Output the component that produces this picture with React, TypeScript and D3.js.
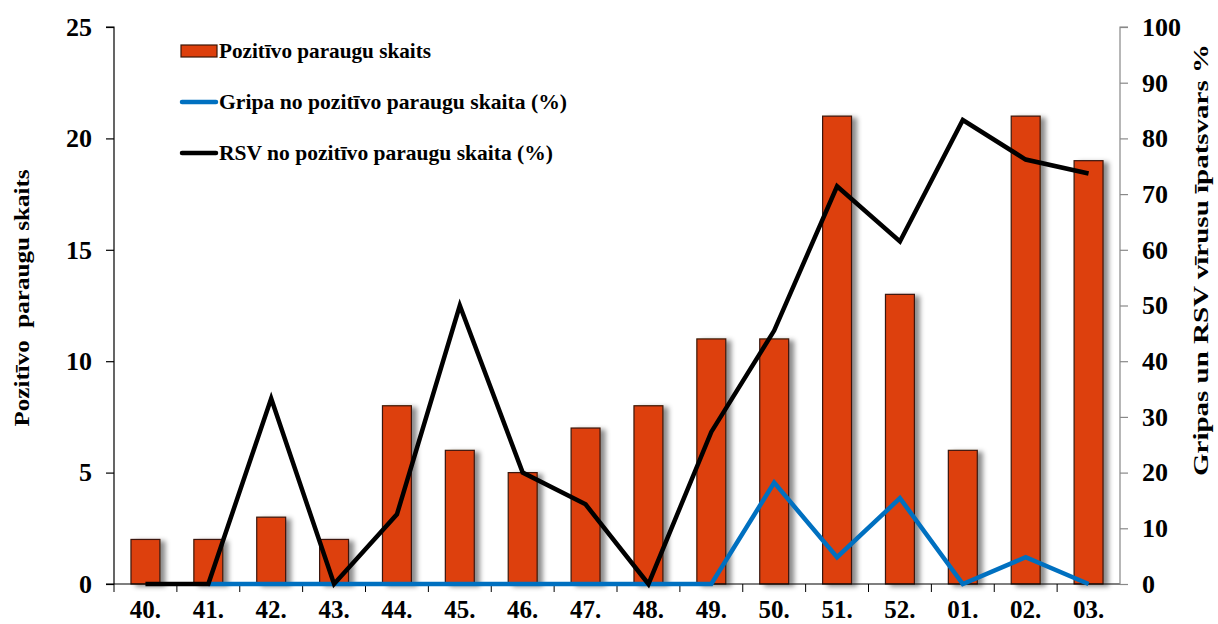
import React, { useEffect, useRef } from 'react';
import * as d3 from 'd3';

// nedēļas
const weeks = ['40.', '41.', '42.', '43.', '44.', '45.', '46.', '47.', '48.', '49.', '50.', '51.', '52.', '01.', '02.', '03.'];
// pozitīvo paraugu skaits (kreisā ass)
const positiveCount = [2, 2, 3, 2, 8, 6, 5, 7, 8, 11, 11, 21, 13, 6, 21, 19];
// gripa % (labā ass), 40. nedēļā nav datu
const fluPct: (number | null)[] = [null, 0, 0, 0, 0, 0, 0, 0, 0, 0, 18.2, 4.8, 15.4, 0, 4.8, 0];
// RSV % (labā ass)
const rsvPct = [0, 0, 33.3, 0, 12.5, 50, 20, 14.3, 0, 27.3, 45.5, 71.4, 61.5, 83.3, 76.2, 73.7];

const leftTicks = [0, 5, 10, 15, 20, 25];
const rightTicks = [0, 10, 20, 30, 40, 50, 60, 70, 80, 90, 100];

const legendItems = [
  { label: 'Pozitīvo paraugu skaits', type: 'bar', color: '#DD3F0C', len: 212 },
  { label: 'Gripa no pozitīvo paraugu skaita (%)', type: 'line', color: '#0070C0', len: 348 },
  { label: 'RSV no pozitīvo paraugu skaita (%)', type: 'line', color: '#000000', len: 334 },
];

const App = () => {
  const ref = useRef<SVGSVGElement>(null);

  useEffect(() => {
    const W = 1218, H = 624;
    const margin = { top: 27, right: 98, bottom: 40, left: 114 };
    const width = W - margin.left - margin.right;
    const height = H - margin.top - margin.bottom;
    const font = '"Liberation Serif", "Times New Roman", serif';

    const root = d3.select(ref.current);
    root.selectAll('*').remove();

    const defs = root.append('defs');
    const f = defs.append('filter').attr('id', 'shadow').attr('x', '-20%').attr('y', '-10%').attr('width', '160%').attr('height', '130%');
    f.append('feDropShadow').attr('dx', 5).attr('dy', 2).attr('stdDeviation', 2.5)
      .attr('flood-color', '#000').attr('flood-opacity', 0.45);

    const svg = root.append('g').attr('transform', `translate(${margin.left},${margin.top})`);

    const x = d3.scaleBand().domain(weeks).range([0, width]);
    const yL = d3.scaleLinear().domain([0, 25]).range([height, 0]);
    const yR = d3.scaleLinear().domain([0, 100]).range([height, 0]);
    const barW = x.bandwidth() * 0.46;

    // bars
    svg.append('g').selectAll('rect')
      .data(positiveCount)
      .enter()
      .append('rect')
      .attr('x', (d, i) => x(weeks[i])! + (x.bandwidth() - barW) / 2)
      .attr('y', (d) => yL(d))
      .attr('width', barW)
      .attr('height', (d) => height - yL(d))
      .attr('fill', '#DD3F0C')
      .attr('stroke', '#3a1608')
      .attr('stroke-width', 1.2)
      .attr('filter', 'url(#shadow)');

    // x axis
    const xAxis = svg.append('g').attr('transform', `translate(0,${height})`);
    xAxis.append('line').attr('x1', -8).attr('x2', width).attr('stroke', '#000').attr('stroke-width', 1.2);
    xAxis.selectAll('.tk')
      .data(d3.range(weeks.length))
      .enter()
      .append('line')
      .attr('x1', (i) => x.step() * i)
      .attr('x2', (i) => x.step() * i)
      .attr('y1', 0)
      .attr('y2', 8)
      .attr('stroke', '#000');
    xAxis.selectAll('text')
      .data(weeks)
      .enter()
      .append('text')
      .attr('x', (d) => x(d)! + x.bandwidth() / 2)
      .attr('y', 34)
      .attr('text-anchor', 'middle')
      .attr('font-family', font)
      .attr('font-weight', 'bold')
      .attr('font-size', 25)
      .text((d) => d);

    // left axis
    const la = svg.append('g')
      .call(d3.axisLeft(yL).tickValues(leftTicks).tickSize(8).tickPadding(14))
      .attr('font-family', font)
      .attr('font-weight', 'bold')
      .attr('font-size', 26);
    la.selectAll('path, line').attr('stroke', '#000').attr('stroke-width', 1.2);
    la.select('.domain').attr('d', `M0,${height}V0H-8`);
    la.selectAll('text').attr('fill', '#000');

    // right axis
    const ra = svg.append('g')
      .attr('transform', `translate(${width},0)`)
      .call(d3.axisRight(yR).tickValues(rightTicks).tickSize(8).tickPadding(14))
      .attr('font-family', font)
      .attr('font-weight', 'bold')
      .attr('font-size', 26);
    ra.selectAll('path, line').attr('stroke', '#888').attr('stroke-width', 1.2);
    ra.select('.domain').attr('d', `M0,${height}V0H8`);
    ra.selectAll('text').attr('fill', '#000');

    // lines
    const cx = (i: number) => x(weeks[i])! + x.bandwidth() / 2;
    const line = d3.line<number | null>()
      .defined((d) => d !== null)
      .x((d, i) => cx(i))
      .y((d) => yR(d as number));

    svg.append('path').datum(fluPct).attr('d', line).attr('fill', 'none')
      .attr('stroke', '#0070C0').attr('stroke-width', 4.5).attr('stroke-linejoin', 'miter');
    svg.append('path').datum(rsvPct as (number | null)[]).attr('d', line).attr('fill', 'none')
      .attr('stroke', '#000').attr('stroke-width', 4.5).attr('stroke-linejoin', 'miter');

    // axis titles
    root.append('text')
      .attr('transform', 'translate(29,298) rotate(-90)')
      .attr('text-anchor', 'middle')
      .attr('font-family', font)
      .attr('font-weight', 'bold')
      .attr('font-size', 22)
      .attr('textLength', 257)
      .attr('lengthAdjust', 'spacingAndGlyphs')
      .attr('xml:space', 'preserve')
      .text('Pozitīvo  paraugu skaits');
    root.append('text')
      .attr('transform', 'translate(1208,260) rotate(-90)')
      .attr('text-anchor', 'middle')
      .attr('font-family', font)
      .attr('font-weight', 'bold')
      .attr('font-size', 22)
      .attr('textLength', 432)
      .attr('lengthAdjust', 'spacingAndGlyphs')
      .text('Gripas un RSV vīrusu īpatsvars %');

    // legend
    const lg = root.append('g').attr('transform', 'translate(181,51)');
    legendItems.forEach((it, i) => {
      const g = lg.append('g').attr('transform', `translate(0,${i * 51})`);
      if (it.type === 'bar') {
        g.append('rect').attr('x', 0).attr('y', -6).attr('width', 36).attr('height', 12)
          .attr('fill', it.color).attr('stroke', '#3a1608').attr('stroke-width', 1.2);
      } else {
        g.append('line').attr('x1', 1).attr('x2', 35).attr('y1', 0).attr('y2', 0)
          .attr('stroke', it.color).attr('stroke-width', 4.5).attr('stroke-linecap', 'round');
      }
      g.append('text').attr('x', 38).attr('y', 7)
        .attr('font-family', font).attr('font-weight', 'bold').attr('font-size', 21)
        .attr('textLength', it.len).attr('lengthAdjust', 'spacingAndGlyphs')
        .text(it.label);
    });
  }, []);

  return (
    <svg ref={ref} width={1218} height={624} style={{ position: 'absolute', left: 0, top: 0, background: '#fff' }} />
  );
};

export default App;
